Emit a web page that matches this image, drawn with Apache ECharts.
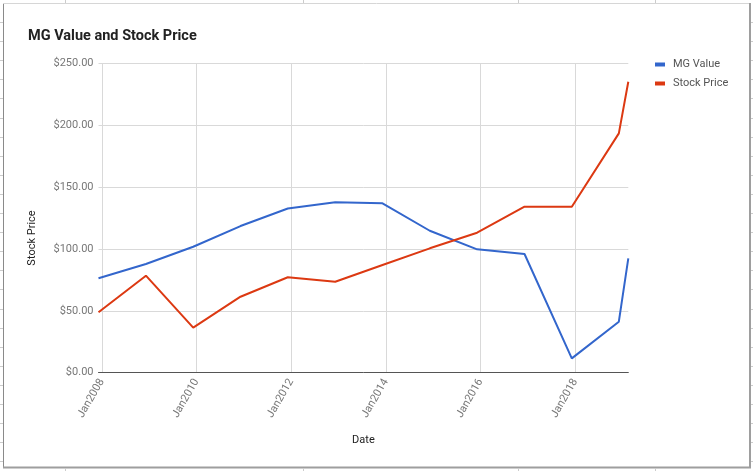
<!DOCTYPE html>
<html>
<head>
<meta charset="utf-8">
<script src="https://cdn.jsdelivr.net/npm/echarts@6/dist/echarts.min.js"></script>
<style>
html,body{margin:0;padding:0;background:#fff;}
#chart{width:753px;height:471px;}
</style>
</head>
<body>
<div id="chart"></div>
<script>
// ---- data ----
const dates = ['2007-12-06','2008-12-06','2009-12-06','2010-12-06','2011-12-06','2012-12-06','2013-12-06','2014-12-06','2015-12-06','2016-12-06','2017-12-06','2018-12-04','2019-02-15'];
const mgValue = [76.3, 87.8, 101.8, 118.5, 132.7, 137.7, 136.9, 114.7, 99.7, 95.9, 11.6, 41.2, 92.4];
const stockPrice = [48.8, 78.4, 36.4, 61.4, 77.1, 73.5, 87.0, 100.5, 113.1, 134.1, 134.1, 193.4, 235.1];
const xTickDates = ['2008-01-01','2010-01-01','2012-01-01','2014-01-01','2016-01-01','2018-01-01'];
const xTickLabels = ['Jan2008','Jan2010','Jan2012','Jan2014','Jan2016','Jan2018'];
const seriesNames = ['MG Value','Stock Price'];

// dates -> day number (days since 1970-01-01, UTC)
function dayNum(s){ const p = s.split('-').map(Number); return Date.UTC(p[0], p[1]-1, p[2]) / 86400000; }
const tickDays = xTickDates.map(dayNum);

const chart = echarts.init(document.getElementById('chart'), null, {renderer:'canvas'});

// spreadsheet frame decorations
const deco = [];
const frameColor = '#9e9e9e';
deco.push({type:'line', shape:{x1:3.5,y1:3,x2:3.5,y2:468}, style:{stroke:'#8a8a8a',lineWidth:1}, silent:true});
deco.push({type:'line', shape:{x1:3,y1:3.5,x2:750,y2:3.5}, style:{stroke:'#d6d6d6',lineWidth:1}, silent:true});
deco.push({type:'line', shape:{x1:750,y1:3,x2:750,y2:468}, style:{stroke:frameColor,lineWidth:2}, silent:true});
deco.push({type:'line', shape:{x1:3,y1:467.5,x2:751,y2:467.5}, style:{stroke:frameColor,lineWidth:2}, silent:true});
for (let y = 22; y < 468; y += 19.1) {
  deco.push({type:'line', shape:{x1:0,y1:Math.round(y)+0.5,x2:3,y2:Math.round(y)+0.5}, style:{stroke:'#cccccc',lineWidth:1}, silent:true});
  deco.push({type:'line', shape:{x1:751,y1:Math.round(y)+0.5,x2:753,y2:Math.round(y)+0.5}, style:{stroke:'#cccccc',lineWidth:1}, silent:true});
}
[65, 303, 518, 655].forEach(x => {
  deco.push({type:'line', shape:{x1:x+0.5,y1:0,x2:x+0.5,y2:3}, style:{stroke:'#cccccc',lineWidth:1}, silent:true});
  deco.push({type:'line', shape:{x1:x+0.5,y1:468,x2:x+0.5,y2:471}, style:{stroke:'#cccccc',lineWidth:1}, silent:true});
});
deco.push({
  type:'text', x:32.5, y:238, rotation:Math.PI/2,
  style:{text:'Stock Price', x:0, y:0, align:'center', verticalAlign:'middle', fill:'#222', font:'11px Roboto'}, silent:true
});

const option = {
  animation:false,
  backgroundColor:'#fff',
  title:{
    text:'MG Value and Stock Price',
    left:28, top:29, padding:0,
    textStyle:{fontFamily:'Roboto', fontSize:14.5, fontWeight:'bold', color:'#222'}
  },
  legend:{
    orient:'vertical', left:655, top:59, padding:0,
    icon:'rect', itemWidth:10, itemHeight:4, itemGap:8,
    data:seriesNames,
    textStyle:{fontFamily:'Roboto', fontSize:11, color:'#555', padding:[0,0,0,3]}
  },
  grid:{left:98.5, right:124.7, top:63.3, bottom:98.3, containLabel:false, outerBoundsMode:'none'},
  xAxis:{
    type:'value',
    min:dayNum(dates[0]), max:dayNum(dates[dates.length-1]),
    name:'Date', nameLocation:'middle', nameGap:62,
    nameTextStyle:{fontFamily:'Roboto', fontSize:11, color:'#222'},
    axisLine:{show:true, onZero:false, lineStyle:{color:'#555', width:1}},
    axisTick:{show:false, customValues:tickDays},
    axisLabel:{
      customValues:tickDays, rotate:60, margin:7,
      fontFamily:'Roboto', fontSize:11, color:'#777',
      formatter:function(v){ const i = tickDays.indexOf(v); return i >= 0 ? xTickLabels[i] : ''; }
    },
    splitLine:{show:true, lineStyle:{color:'#d9d9d9', width:1}}
  },
  yAxis:{
    type:'value', min:0, max:250, interval:50,
    axisLine:{show:false}, axisTick:{show:false},
    axisLabel:{margin:5, fontFamily:'Roboto', fontSize:11, color:'#777',
      formatter:function(v){ return '$' + v.toFixed(2); }},
    splitLine:{show:true, lineStyle:{color:'#d9d9d9', width:1}}
  },
  series:[
    {name:seriesNames[0], type:'line', showSymbol:false, symbol:'none', color:'#3366cc',
     lineStyle:{width:2, color:'#3366cc'}, data:dates.map((d,i)=>[dayNum(d), mgValue[i]])},
    {name:seriesNames[1], type:'line', showSymbol:false, symbol:'none', color:'#dc3912',
     lineStyle:{width:2, color:'#dc3912'}, data:dates.map((d,i)=>[dayNum(d), stockPrice[i]])}
  ],
  graphic:deco
};
chart.setOption(option);
</script>
</body>
</html>
